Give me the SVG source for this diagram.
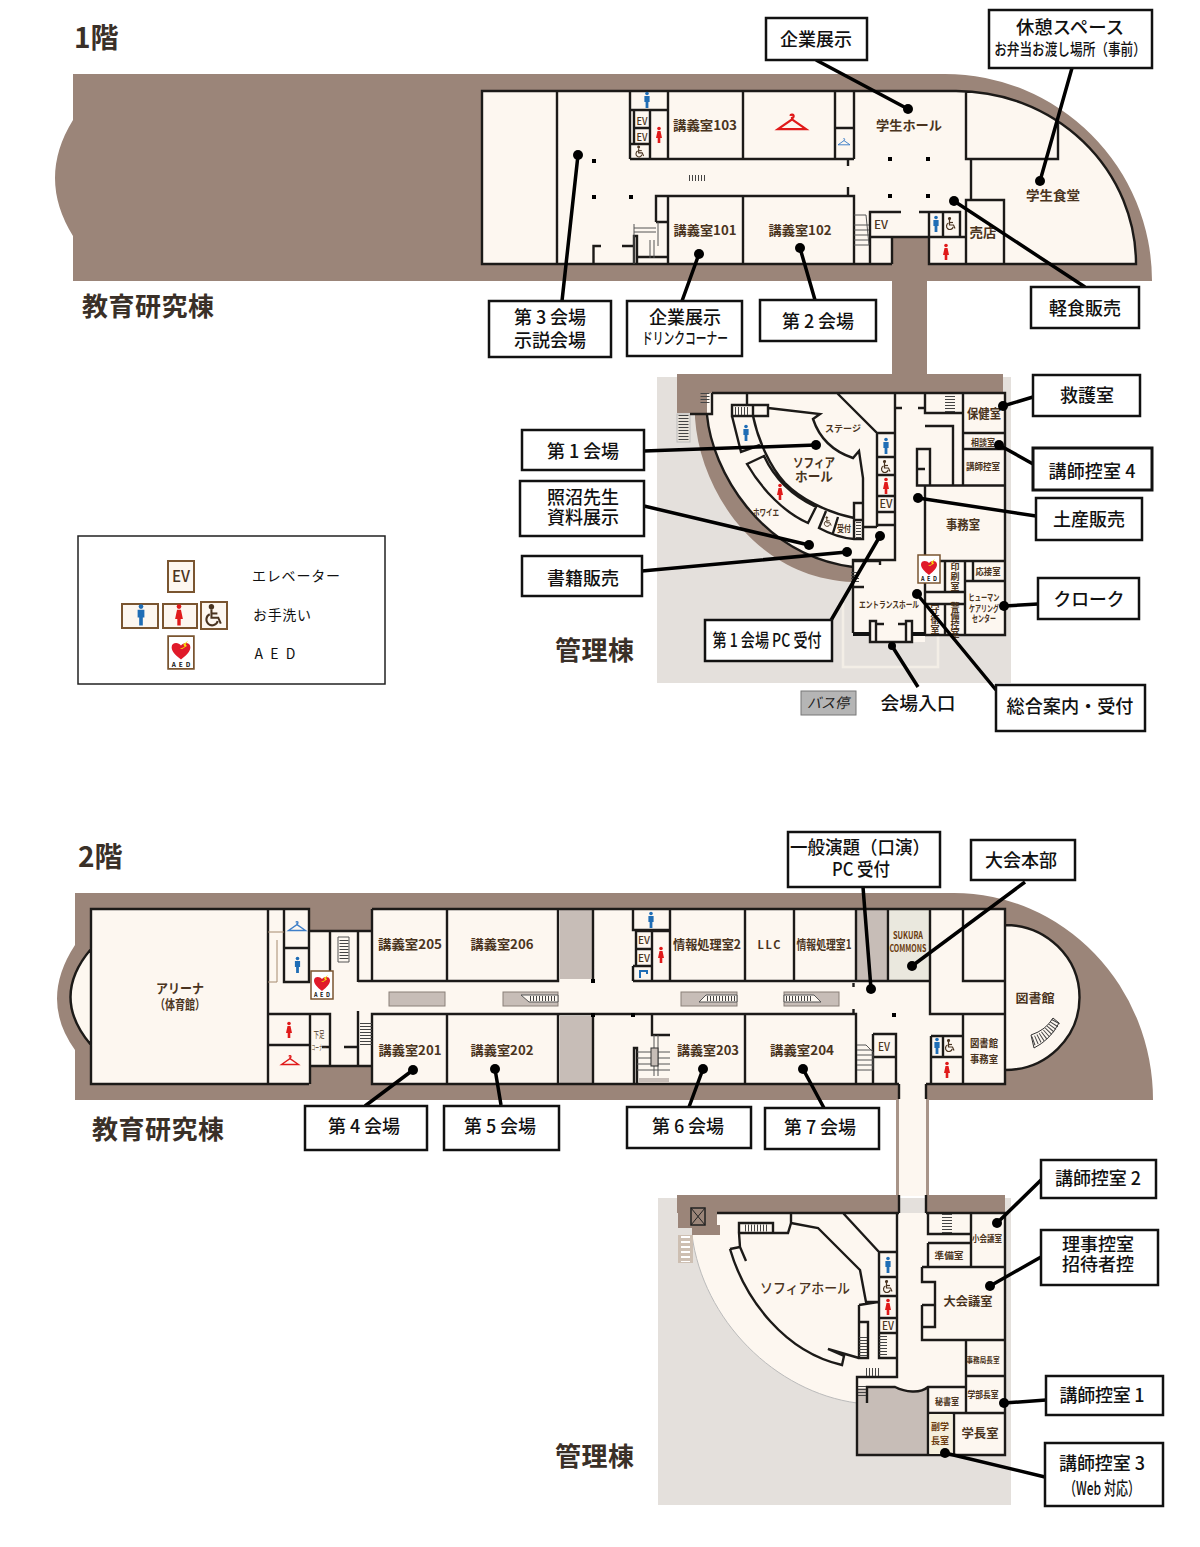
<svg xmlns="http://www.w3.org/2000/svg" width="1200" height="1547" viewBox="0 0 1200 1547">
<style>
text{font-family:"Noto Sans CJK JP","Liberation Sans",sans-serif;text-anchor:middle}
.brown{fill:#9b8579}.cream{fill:#fdf7f0}.gray{fill:#e4e0dc}.slab{fill:#c7bdb7}
.wall{fill:none;stroke:#1c1a18;stroke-width:2.4}
.thin{fill:none;stroke:#555;stroke-width:1}
.st{fill:none;stroke:#444;stroke-dasharray:1 2}
.rm{fill:#4a3420;font-weight:700;font-size:13px}
.rs{fill:#4a3420;font-weight:700;font-size:9px}
.vt{writing-mode:vertical-rl;letter-spacing:1px}
.ev{fill:#4a3420;font-size:11px;font-weight:500}
.box{fill:#fff;stroke:#111;stroke-width:2.5}
.lb{fill:#111;font-size:18px;font-weight:500}
.h{fill:#3a3028;font-weight:700;font-size:26px;text-anchor:start}
.cn{stroke:#000;stroke-width:3.5;fill:none}
.dot{fill:#000}
.blue{fill:#1f6db5;stroke:#1f6db5}.red{fill:#e01a1a;stroke:#e01a1a}.wc{fill:none;stroke:#4a3420}
.lg{fill:#fdf7f0;stroke:#7a5530;stroke-width:2}
</style>
<defs>
<g id="man"><circle cy="-6.5" r="1.8" stroke="none"/><path stroke="none" d="M-2.6,-4H2.6V2H1.4V8H-1.4V2H-2.6Z"/></g>
<g id="woman"><circle cy="-6.5" r="1.8" stroke="none"/><path stroke="none" d="M-1.5,-4H1.5L3,3H1.3V8H-1.3V3H-3Z"/></g>
<g id="chair" stroke-width="1.2" fill="none"><circle cx="-1.5" cy="-5.5" r="1" fill="#4a3420"/><path d="M-1.5,-4V1H2.5L4,4.5"/><path d="M-1.5,-1.5H2"/><path d="M-2.5,-1A3.4,3.4 0 1 0 2.2,3"/></g>
<path id="hanger" fill="none" stroke-width="1.6" d="M-1.200,-6.500A1.200,1.200 0 1 1 0,-5V-4L-10,3H10L0,-4"/>
<g id="aed"><rect x="-11" y="-14" width="22" height="28" fill="#fff" stroke="#7a5530" stroke-width="1.5"/><path d="M0,6C-5,2 -8,-1 -8,-4.500C-8,-9 -2,-9 0,-6C2,-9 8,-9 8,-4.500C8,-1 5,2 0,6Z" fill="#e01a2a"/><path d="M-1,-3L3,-5L2,-7L6,-10L4,-7L5,-5.500L1,-3Z" fill="#f5d90a"/><text y="12" font-size="5.500" font-weight="700" fill="#111" textLength="16" lengthAdjust="spacing">AED</text></g>
</defs>
<rect width="1200" height="1547" fill="#fff"/>

<g id="floor1-plan">
<rect class="gray" x="657" y="377" width="354" height="306"/>
<path class="brown" d="M73,74H945A207,207 0 0 1 1152,281H73V236Q37,178 73,120Z"/>
<rect class="brown" x="892" y="238" width="35" height="140"/>
<path class="cream" d="M482,91H956A180,173 0 0 1 1136,264H929V238H892V264H482Z"/>
<path class="wall" d="M892,264H482V91H956A180,173 0 0 1 1136,264H929V212M557,91V264M630,91V159M668,91V159M743,91V159M835,91V159M854,91V159M630,110H668M634,110V144M650,110V159M634,128H650M630,144H650M835,128H854M630,159H854M848,159V166M848,187V196M966,91V159H1058V122M971,159V200M966,264V200H1004V264M656,222V196H854V264M668,196V264M743,196V264M656,222H668M870,264V212H901M919,212H960V237M892,264V237H966M870,237H892M943,212V237M929,237V212M593.500,264V246H601M622,246H634M634,264V236H637V264M637,257H668"/>
<path class="thin" d="M634,228H656M634,232H656M634,224V264M654,240V258M650,240V258M658,222V246M854,215H866L869,245H854M854,225H869M854,230H869M854,235H869M854,240H869"/>
<path class="st" stroke-width="6" d="M689,178H706"/>
<g class="dot"><rect x="592" y="159" width="4" height="4"/><rect x="592" y="195" width="4" height="4"/><rect x="629" y="195" width="4" height="4"/><rect x="888" y="157" width="4" height="4"/><rect x="926" y="157" width="4" height="4"/><rect x="888" y="194" width="4" height="4"/><rect x="926" y="194" width="4" height="4"/></g>
<use href="#man" class="blue" x="647" y="100"/><use href="#woman" class="red" x="659" y="135"/>
<use href="#hanger" stroke="#e01a1a" transform="translate(792,125) scale(1.400)"/>
<use href="#hanger" stroke="#3f7fc8" transform="translate(844,143) scale(.6)"/>
<use href="#chair" class="wc" transform="translate(640,152) scale(.9)"/>
<use href="#man" class="blue" x="936" y="224"/><use href="#chair" class="wc" x="951" y="224"/><use href="#woman" class="red" x="946" y="252"/>
<g class="ev"><text x="642" y="125" font-size="10" textLength="11" lengthAdjust="spacingAndGlyphs">EV</text><text x="642" y="141" font-size="10" textLength="11" lengthAdjust="spacingAndGlyphs">EV</text><text x="881" y="229" textLength="14" lengthAdjust="spacingAndGlyphs">EV</text></g>
<text class="rm" x="705" y="130" textLength="64" lengthAdjust="spacingAndGlyphs">講義室103</text>
<text class="rm" x="909" y="130" textLength="66" lengthAdjust="spacingAndGlyphs">学生ホール</text>
<text class="rm" x="705" y="235" textLength="63" lengthAdjust="spacingAndGlyphs">講義室101</text>
<text class="rm" x="800" y="235" textLength="63" lengthAdjust="spacingAndGlyphs">講義室102</text>
<text class="rm" x="1053" y="200" textLength="54" lengthAdjust="spacingAndGlyphs">学生食堂</text>
<text class="rm" x="983" y="237" textLength="27" lengthAdjust="spacingAndGlyphs">売店</text>
</g>

<g id="mgmt1-plan">
<path fill="none" stroke="#f3eee6" stroke-width="2.500" d="M843,603V667H938V603"/>
<path class="brown" d="M677,374H1003V393H707V415C712,470 760,555 853,567V582C755,578 700,490 695,418V413H677Z"/>
<path class="cream" d="M707,393H1005V635H925V642H870V635H853V567C760,555 712,470 707,415Z"/>
<rect x="677" y="414" width="13" height="28" fill="#e9e3da" stroke="#bbb"/>
<path class="st" stroke-width="10" d="M683.500,415V441"/>
<path class="st" stroke-width="9" d="M705,393V404"/>
<path class="wall" d="M712,393H1005V635H925M895,393V560H853V633M707,415C712,470 760,555 853,567M712,393V414H690M747,393V405M732,405H768V416H732ZM753,405V416M768,408L820,414L813,419C820,440 835,452 853,458L859,451L863,478V527M837,393L877,433V527M863,527H877M877,433H895M877,457H895M877,475H895M877,496H895M877,512H895M877,525H895M854,503H863V539H854ZM854,520H863M895,408H902M918,408H925M925,393V413H963M963,393V485.500M963,433H1005M963,449H1005M925,485.500H1005M925,426H953V485.500M917,449H930V485.500H917ZM917,469H925M925,485.500V635M965,561H1005M973,561V581H1005M965,561V635M945,561V592M925,561H965M925,592H965M925,604H965M945,604V635M965,581H1005M732,416L741,452L760,445M753,416C758,440 770,467 785,483C800,498 825,512 854,518M747,464L764,456C775,480 795,497 816,507L808,523C785,513 762,490 747,464ZM826,511L819,528C830,534 842,538 854,539M838,517L833,533M853,561H880V565M853,587H864M870,621H876V642H870ZM906,621H912V642H906ZM870,642H912M876,624H884M898,624H906"/>
<path d="M853,634H870M912,634H925" stroke="#111" stroke-width="4"/>
<path class="st" stroke-width="10" d="M950,396V412"/>
<path class="st" stroke-width="8" d="M855,572V584"/>
<path class="st" stroke-width="5" d="M858.500,522V538"/>
<path class="st" stroke-width="8" d="M735,411H750"/>
<use href="#man" class="blue" x="746" y="433"/>
<use href="#man" class="blue" x="886" y="446"/><use href="#chair" class="wc" x="886" y="467"/><use href="#woman" class="red" x="886" y="486"/>
<use href="#woman" class="red" x="780" y="492"/><use href="#chair" class="wc" transform="translate(828,522) scale(.8)"/>
<text class="ev" x="886" y="508" textLength="13" lengthAdjust="spacingAndGlyphs">EV</text>
<text class="rs" x="843" y="432" font-size="10" textLength="36" lengthAdjust="spacingAndGlyphs">ステージ</text>
<text class="rm" x="814" y="467" textLength="42" lengthAdjust="spacingAndGlyphs">ソフィア</text>
<text class="rm" x="814" y="481" textLength="38" lengthAdjust="spacingAndGlyphs">ホール</text>
<text class="rs" x="766" y="516" textLength="26" lengthAdjust="spacingAndGlyphs">ホワイエ</text>
<text class="rs" x="844" y="532" font-size="7" textLength="14" lengthAdjust="spacingAndGlyphs">受付</text>
<text class="rm" x="984" y="418" font-size="12" textLength="34" lengthAdjust="spacingAndGlyphs">保健室</text>
<text class="rs" x="983" y="446" textLength="24" lengthAdjust="spacingAndGlyphs">相談室</text>
<text class="rs" x="983" y="470" textLength="34" lengthAdjust="spacingAndGlyphs">講師控室</text>
<text class="rm" x="963" y="529" font-size="12" textLength="34" lengthAdjust="spacingAndGlyphs">事務室</text>
<text class="rs" x="988" y="575" textLength="25" lengthAdjust="spacingAndGlyphs">応接室</text>
<text class="rs vt" x="955" y="577">印刷室</text>
<text class="rs" x="984" y="601" textLength="31" lengthAdjust="spacingAndGlyphs">ヒューマン</text>
<text class="rs" x="984" y="612" textLength="30" lengthAdjust="spacingAndGlyphs">ケアリング</text>
<text class="rs" x="984" y="622" textLength="24" lengthAdjust="spacingAndGlyphs">センター</text>
<text class="rs" x="889" y="608" textLength="60" lengthAdjust="spacingAndGlyphs">エントランスホール</text>
<text class="rs vt" x="935" y="620">守衛室</text>
<text class="rs vt" x="955" y="620" font-size="7.500" style="letter-spacing:0">警備控室</text>
<use href="#aed" x="929" y="569"/>
</g>

<g id="floor2-plan">
<rect class="gray" x="658" y="1198" width="353" height="307"/>
<path class="brown" d="M75,893H954A199,207 0 0 1 1153,1100H75V1050Q39,1000 75,945Z"/>
<path class="cream" d="M91,909H309V931H372V909H1005V925A74,72 0 0 1 1005,1070V1084H372V1066H309V1084H91V1045Q50,997 91,949Z"/>
<path class="cream" d="M899,1084H926V1196H899Z"/>
<path d="M897.500,1099V1196M927.500,1099V1196" stroke="#a89488" stroke-width="3"/>
<path d="M899,1084V1099M926,1084V1099" stroke="#1c1a18" stroke-width="2.400"/>
<rect class="slab" x="560" y="909" width="33" height="70"/><rect class="slab" x="560" y="1016" width="33" height="68"/>
<rect class="slab" x="857" y="909" width="31" height="71"/><rect x="890" y="910" width="40" height="70" fill="#eae8de"/>
<g class="slab" stroke="#8a8078"><rect x="389" y="992" width="56" height="14"/><rect x="503" y="992" width="55" height="14"/><rect x="681" y="992" width="56" height="14"/><rect x="784" y="992" width="55" height="14"/></g>
<path fill="#fdf7f0" stroke="#555" d="M521,995H558V1002H529ZM737,1002H699L706,995H737ZM784,995H814L821,1002H784Z"/>
<path class="st" stroke-width="5" d="M530,998.500H555M707,998.500H735M786,998.500H812"/>
<path class="wall" d="M91,909H268V1084H91ZM91,949Q50,997 91,1045M268,909H309V982H284V909M284,948H309M309,931H372M309,909V931M372,909H1005V1084H926M899,1084H372V1014H856V1084M372,909V981M330,931V971M358,931V982M358,981H558V909M447,909V981M593,909V981M268,1014H330V1066M310,1014V1084M358,1011V1065M309,1066H372M268,1045H309M268,1084H309M447,1014V1084M558,1014V1084M593,1014V1084M633,909V930H670M670,909V981M636,931V966M652,931V981M636,949H652M636,931H670M633,966H652M633,966V981M633,981H930M745,909V981M794,909V981M856,909V981M888,909V981M930,909V1014H1005M963,909V981H1005M1005,925A74,72 0 0 1 1005,1070M963,1014V1084M931,1036H963M931,1036V1084M931,1057H963M943,1036V1057M652,1014V1035H670M745,1014V1084M873,1034H896V1084M873,1034V1084M873,1057H896M634,1084V1048H637V1084M853.500,983V987M853.500,1009V1014M322,1047H330M344,1047H358"/>
<path d="M268,932H284M277,940V982H268" fill="none" stroke="#a58a6e" stroke-width="1"/>
<path class="thin" d="M637,1052H670M637,1058H670M637,1064H670M637,1070H670M654,1035V1076M658,1035V1076M857,1045H866L873,1052V1070H857M857,1050H873M857,1055H873M857,1060H873M857,1065H873"/>
<rect class="slab" x="651" y="1048" width="7" height="18" stroke="#333"/><rect class="slab" x="639" y="1078" width="30" height="5"/>
<path class="st" stroke-width="12" d="M366,1023V1046"/>
<path class="st" stroke-width="9" d="M344,940V960"/>
<path class="thin" d="M338,937H349V962H338Z"/>
<path fill="none" stroke="#333" stroke-width="1" d="M1031,1035Q1046,1030 1053,1018L1059,1023Q1050,1040 1034,1048Z"/>
<path class="st" stroke-width="9" d="M1033,1041Q1048,1036 1056,1021"/>
<g class="dot"><rect x="591" y="979" width="4" height="4"/><rect x="591" y="1013" width="4" height="4"/><rect x="631" y="1013" width="4" height="4"/><rect x="892" y="1013" width="4" height="4"/></g>
<use href="#hanger" stroke="#3f7fc8" transform="translate(297,928) scale(.85)"/><use href="#man" class="blue" x="297.500" y="965"/><use href="#woman" class="red" x="289" y="1030"/><use href="#hanger" stroke="#e01a1a" transform="translate(290,1062) scale(.85)"/>
<use href="#aed" x="322" y="985"/>
<use href="#man" class="blue" x="651" y="920"/><use href="#woman" class="red" x="661" y="955"/>
<path fill="none" stroke="#1f6db5" stroke-width="2" d="M640,978V971H647V974"/>
<use href="#man" class="blue" x="937" y="1046"/><use href="#chair" class="wc" x="950" y="1046"/><use href="#woman" class="red" x="947" y="1070"/>
<g class="ev"><text x="644" y="944" font-size="10" textLength="12" lengthAdjust="spacingAndGlyphs">EV</text><text x="644" y="962" font-size="10" textLength="12" lengthAdjust="spacingAndGlyphs">EV</text><text x="884" y="1051" textLength="12" lengthAdjust="spacingAndGlyphs">EV</text></g>
<text class="rm" x="180" y="993" font-size="12" textLength="48" lengthAdjust="spacingAndGlyphs">アリーナ</text>
<text class="rm" x="180" y="1009" font-size="12" textLength="50" lengthAdjust="spacingAndGlyphs">（体育館）</text>
<text class="rm" x="410" y="949" textLength="64" lengthAdjust="spacingAndGlyphs">講義室205</text>
<text class="rm" x="502" y="949" textLength="63" lengthAdjust="spacingAndGlyphs">講義室206</text>
<text class="rm" x="410" y="1055" textLength="63" lengthAdjust="spacingAndGlyphs">講義室201</text>
<text class="rm" x="502" y="1055" textLength="63" lengthAdjust="spacingAndGlyphs">講義室202</text>
<text class="rs" x="319" y="1038" style="font-weight:400" textLength="11" lengthAdjust="spacingAndGlyphs">下足</text>
<text class="rs" x="319" y="1050" style="font-weight:400;font-size:7px" textLength="15" lengthAdjust="spacingAndGlyphs">コーナー</text>
<text class="rm" x="707" y="949" textLength="68" lengthAdjust="spacingAndGlyphs">情報処理室2</text>
<text class="rm" x="769" y="949" style="font-size:11px" textLength="23">LLC</text>
<text class="rm" x="824" y="949" textLength="55" lengthAdjust="spacingAndGlyphs">情報処理室1</text>
<text class="rm" x="708" y="1055" textLength="62" lengthAdjust="spacingAndGlyphs">講義室203</text>
<text class="rm" x="802" y="1055" textLength="64" lengthAdjust="spacingAndGlyphs">講義室204</text>
<text class="rm" x="1035" y="1003" style="font-size:12px" textLength="39" lengthAdjust="spacingAndGlyphs">図書館</text>
<text class="rm" x="984" y="1047" style="font-size:10px" textLength="28" lengthAdjust="spacingAndGlyphs">図書館</text>
<text class="rm" x="984" y="1063" style="font-size:10px" textLength="28" lengthAdjust="spacingAndGlyphs">事務室</text>
<text x="908" y="939" font-size="10" font-weight="700" fill="#6b3c10" textLength="30" lengthAdjust="spacingAndGlyphs">SUKURA</text>
<text x="908" y="952" font-size="10" font-weight="700" fill="#6b3c10" textLength="37" lengthAdjust="spacingAndGlyphs">COMMONS</text>
</g>

<g id="mgmt2-plan">
<path class="brown" d="M677,1195H900V1213H677ZM926,1195H1005V1213H926Z"/>
<path class="cream" d="M692,1213H1005V1455H857V1403C775,1392 703,1320 692,1235Z"/>
<path fill="none" stroke="#bbb" d="M692,1235C703,1320 775,1392 857,1403"/>
<path class="brown" d="M678,1208H717V1225H720V1235H692V1228H678Z"/>
<rect x="678" y="1235" width="15" height="28" fill="#cdbfb2"/><path stroke="#fff" stroke-width="9" stroke-dasharray="2 3" fill="none" d="M685.500,1236V1262"/>
<rect x="691" y="1208" width="14" height="17" fill="#9b8579" stroke="#222" stroke-width="1.500"/><path d="M691,1208L705,1225M705,1208L691,1225" stroke="#222"/>
<path class="slab" d="M858,1388H867V1403H858ZM867,1388H895C905,1392 920,1394 928,1388V1454H858V1403H867Z"/>
<path d="M899,1195V1213M926,1195V1213" stroke="#1c1a18" stroke-width="2.400"/>
<path class="wall" d="M717,1213H899M897,1213V1377H857V1455H1005V1213H926M867,1403V1387H895C905,1392 920,1394 928,1387H966M739,1233V1223H773V1233H739L740,1247L746,1261M773,1233H788L791,1223V1213M791,1223L818,1228L860,1270L866,1302H878M859,1305L878,1302M859,1305V1358H868V1322H859M730,1249L740,1247M730,1249C745,1300 785,1352 842,1365L844,1356L828,1349L859,1358M843,1213L879,1252M879,1252H897M879,1252V1358H897M879,1277H897M879,1296H897M879,1318H897M879,1333H897M928,1213V1234H970M971,1213V1267M928,1243H970M928,1243V1267M922,1267H1005M922,1267V1282H935V1327H922M922,1305H935M922,1305V1340H1005M966,1340V1413M966,1376H1005M928,1413H1005M928,1387V1455M954,1413V1455"/>
<rect x="929.500" y="1414" width="23" height="40" fill="#f5efdc"/>
<path class="st" stroke-width="8" d="M883,1336V1356M863,1337V1356M866,1372H880"/>
<path class="st" stroke-width="10" d="M947,1214V1233"/>
<path class="st" stroke-width="7" d="M745,1228H768"/>
<path class="st" stroke-width="8" d="M862,1386V1398"/>
<use href="#man" class="blue" x="888" y="1265"/><use href="#chair" class="wc" x="888" y="1287"/><use href="#woman" class="red" x="888" y="1307"/>
<text class="ev" x="888" y="1330" textLength="12" lengthAdjust="spacingAndGlyphs">EV</text>
<text class="rm" x="805" y="1293" style="font-size:14px;font-weight:500" textLength="90" lengthAdjust="spacingAndGlyphs">ソフィアホール</text>
<text class="rs" x="949" y="1259" textLength="29" lengthAdjust="spacingAndGlyphs">準備室</text>
<text class="rs" x="987" y="1242" textLength="30" lengthAdjust="spacingAndGlyphs">小会議室</text>
<text class="rm" x="968" y="1306" style="font-size:12px" textLength="49" lengthAdjust="spacingAndGlyphs">大会議室</text>
<text class="rs" x="983" y="1363" style="font-size:8px" textLength="33" lengthAdjust="spacingAndGlyphs">事務局長室</text>
<text class="rs" x="983" y="1398" textLength="31" lengthAdjust="spacingAndGlyphs">学部長室</text>
<text class="rs" x="947" y="1405" textLength="24" lengthAdjust="spacingAndGlyphs">秘書室</text>
<text class="rm" x="980" y="1438" style="font-size:12px" textLength="37" lengthAdjust="spacingAndGlyphs">学長室</text>
<text class="rs" x="940" y="1430" textLength="18" style="fill:#6b3c10" lengthAdjust="spacingAndGlyphs">副学</text>
<text class="rs" x="940" y="1444" textLength="18" style="fill:#6b3c10" lengthAdjust="spacingAndGlyphs">長室</text>
</g>

<g id="headings">
<text class="h" x="74" y="48" style="font-size:28px">1階</text>
<text class="h" x="82" y="316" textLength="132">教育研究棟</text>
<text class="h" x="555" y="660" textLength="79">管理棟</text>
<text class="h" x="78" y="867" style="font-size:28px">2階</text>
<text class="h" x="92" y="1139" textLength="132">教育研究棟</text>
<text class="h" x="555" y="1466" textLength="79">管理棟</text>
</g>

<g id="legend">
<rect x="78" y="536" width="307" height="148" fill="#fff" stroke="#222" stroke-width="1.500"/>
<rect class="lg" x="168" y="561" width="26" height="31"/><text x="181" y="582" font-size="16" font-weight="500" fill="#4a3420" textLength="18" lengthAdjust="spacingAndGlyphs">EV</text>
<rect class="lg" x="122" y="604" width="36" height="24"/><use href="#man" class="blue" transform="translate(141,615) scale(1.300)"/>
<rect class="lg" x="163" y="604" width="34" height="24"/><use href="#woman" class="red" transform="translate(179,615) scale(1.300)"/>
<rect class="lg" x="201" y="602" width="26" height="27"/><use href="#chair" class="wc" transform="translate(214,616) scale(1.700)"/>
<use href="#aed" transform="translate(181,652.500) scale(1.170)"/>
<text x="296" y="581" font-size="14" fill="#111" textLength="88">エレベーター</text>
<text x="282" y="620" font-size="14" fill="#111" textLength="58">お手洗い</text>
<text x="275" y="659" font-size="14" fill="#111" textLength="41">AED</text>
</g>

<g id="connectors">
<path class="cn" d="M816,60L908,109M1072,68L1040,181M1085,287L954,201M562,301L578,155M682,301L699,254M815,300L800,248M1033,397L1003,406M1033,464L999,445M1036,516L918,498M1038,604L1004,606M996,690L917,594M918,687L892,646M830,622L880,536M644,451L816,445M644,506L809,545M642,571L847,552M863,887L871,989M1025,882L912,966M365,1106L413,1070M501,1105L495,1069M689,1107L703,1069M824,1108L803,1069M1041,1180L997,1223M1041,1257L990,1286M1046,1400L1004,1403M1045,1477L945,1453"/>
<g class="dot"><circle cx="908" cy="109" r="5"/><circle cx="1040" cy="181" r="5"/><circle cx="954" cy="201" r="5"/><circle cx="578" cy="155" r="5"/><circle cx="699" cy="254" r="5"/><circle cx="800" cy="248" r="5"/><circle cx="1003" cy="406" r="5"/><circle cx="999" cy="445" r="5"/><circle cx="918" cy="498" r="5"/><circle cx="1004" cy="606" r="5"/><circle cx="917" cy="594" r="5"/><circle cx="892" cy="646" r="4"/><circle cx="880" cy="536" r="5"/><circle cx="816" cy="445" r="5"/><circle cx="809" cy="545" r="5"/><circle cx="847" cy="552" r="5"/><circle cx="871" cy="989" r="5"/><circle cx="912" cy="966" r="5"/><circle cx="413" cy="1070" r="5"/><circle cx="495" cy="1069" r="5"/><circle cx="703" cy="1069" r="5"/><circle cx="803" cy="1069" r="5"/><circle cx="997" cy="1223" r="5"/><circle cx="990" cy="1286" r="5"/><circle cx="1004" cy="1403" r="5"/><circle cx="945" cy="1453" r="5"/></g>
</g>

<g id="n-kigyo"><rect class="box" x="766" y="18" width="101" height="42"/><text class="lb" x="816" y="46" textLength="72" lengthAdjust="spacingAndGlyphs">企業展示</text></g>
<g id="n-kyukei"><rect class="box" x="989" y="10" width="163" height="58"/><text class="lb" x="1070" y="34" textLength="108" lengthAdjust="spacingAndGlyphs">休憩スペース</text><text class="lb" transform="translate(1070,55) scale(.79,1)" style="font-size:16px">お弁当お渡し場所（事前）</text></g>
<g id="n-keishoku"><rect class="box" x="1031" y="287" width="108" height="41"/><text class="lb" x="1085" y="315" textLength="72" lengthAdjust="spacingAndGlyphs">軽食販売</text></g>
<g id="n-dai3"><rect class="box" x="489" y="301" width="122" height="56"/><text class="lb" x="550" y="324" textLength="72">第 3 会場</text><text class="lb" x="550" y="347" textLength="72" lengthAdjust="spacingAndGlyphs">示説会場</text></g>
<g id="n-drink"><rect class="box" x="627" y="301" width="115" height="55"/><text class="lb" x="685" y="324" textLength="72" lengthAdjust="spacingAndGlyphs">企業展示</text><text class="lb" x="685" y="344" style="font-size:16px" textLength="86" lengthAdjust="spacingAndGlyphs">ドリンクコーナー</text></g>
<g id="n-dai2"><rect class="box" x="760" y="300" width="116" height="41"/><text class="lb" x="818" y="328" textLength="72">第 2 会場</text></g>
<g id="n-kyugo"><rect class="box" x="1033" y="375" width="107" height="41"/><text class="lb" x="1087" y="402" textLength="54" lengthAdjust="spacingAndGlyphs">救護室</text></g>
<g id="n-koshi4"><rect class="box" x="1033" y="448" width="119" height="42" style="stroke-width:3"/><text class="lb" x="1092" y="478" textLength="87">講師控室 4</text></g>
<g id="n-miyage"><rect class="box" x="1036" y="498" width="106" height="42"/><text class="lb" x="1089" y="526" textLength="72" lengthAdjust="spacingAndGlyphs">土産販売</text></g>
<g id="n-cloak"><rect class="box" x="1038" y="578" width="101" height="41"/><text class="lb" x="1089" y="606" textLength="71" lengthAdjust="spacingAndGlyphs">クローク</text></g>
<g id="n-sogo"><rect class="box" x="996" y="685" width="149" height="46"/><text class="lb" x="1070" y="713" textLength="127" lengthAdjust="spacingAndGlyphs">総合案内・受付</text></g>
<g id="n-dai1"><rect class="box" x="522" y="430" width="122" height="40"/><text class="lb" x="583" y="458" textLength="72">第 1 会場</text></g>
<g id="n-terunuma"><rect class="box" x="520" y="481" width="124" height="55"/><text class="lb" x="583" y="504" textLength="72" lengthAdjust="spacingAndGlyphs">照沼先生</text><text class="lb" x="583" y="524" textLength="72" lengthAdjust="spacingAndGlyphs">資料展示</text></g>
<g id="n-shoseki"><rect class="box" x="522" y="556" width="120" height="40"/><text class="lb" x="583" y="585" textLength="72" lengthAdjust="spacingAndGlyphs">書籍販売</text></g>
<g id="n-pc1"><rect class="box" x="705" y="620" width="127" height="41"/><text class="lb" x="767" y="647" textLength="109" lengthAdjust="spacingAndGlyphs">第 1 会場 PC 受付</text></g>
<g id="n-bus"><rect x="801" y="691" width="55" height="24" fill="#b5b5b5" stroke="#777"/><text x="828" y="708" font-size="14" font-style="italic" fill="#222" textLength="42" lengthAdjust="spacingAndGlyphs">バス停</text></g>
<g id="n-iriguchi"><text class="lb" x="918" y="710" textLength="75" lengthAdjust="spacingAndGlyphs">会場入口</text></g>
<g id="n-ippan"><rect class="box" x="788" y="832" width="152" height="55"/><text class="lb" x="860" y="854" textLength="140" lengthAdjust="spacingAndGlyphs">一般演題（口演）</text><text class="lb" x="861" y="876" textLength="58" lengthAdjust="spacingAndGlyphs">PC 受付</text></g>
<g id="n-honbu"><rect class="box" x="971" y="840" width="104" height="40"/><text class="lb" x="1021" y="867" textLength="72" lengthAdjust="spacingAndGlyphs">大会本部</text></g>
<g id="n-dai4"><rect class="box" x="305" y="1106" width="122" height="44"/><text class="lb" x="364" y="1133" textLength="72">第 4 会場</text></g>
<g id="n-dai5"><rect class="box" x="444" y="1106" width="115" height="44"/><text class="lb" x="500" y="1133" textLength="72">第 5 会場</text></g>
<g id="n-dai6"><rect class="box" x="627" y="1107" width="124" height="41"/><text class="lb" x="688" y="1133" textLength="72">第 6 会場</text></g>
<g id="n-dai7"><rect class="box" x="765" y="1108" width="114" height="41"/><text class="lb" x="820" y="1134" textLength="72">第 7 会場</text></g>
<g id="n-koshi2"><rect class="box" x="1041" y="1160" width="115" height="38"/><text class="lb" x="1098" y="1185" textLength="86">講師控室 2</text></g>
<g id="n-riji"><rect class="box" x="1041" y="1230" width="117" height="55"/><text class="lb" x="1098" y="1251" textLength="72" lengthAdjust="spacingAndGlyphs">理事控室</text><text class="lb" x="1098" y="1271" textLength="72" lengthAdjust="spacingAndGlyphs">招待者控</text></g>
<g id="n-koshi1"><rect class="box" x="1046" y="1376" width="117" height="39"/><text class="lb" x="1102" y="1402" textLength="85">講師控室 1</text></g>
<g id="n-koshi3"><rect class="box" x="1045" y="1443" width="118" height="63"/><text class="lb" x="1102" y="1470" textLength="86">講師控室 3</text><text class="lb" x="1102" y="1495" textLength="76" lengthAdjust="spacingAndGlyphs">（Web 対応）</text></g>
</svg>
